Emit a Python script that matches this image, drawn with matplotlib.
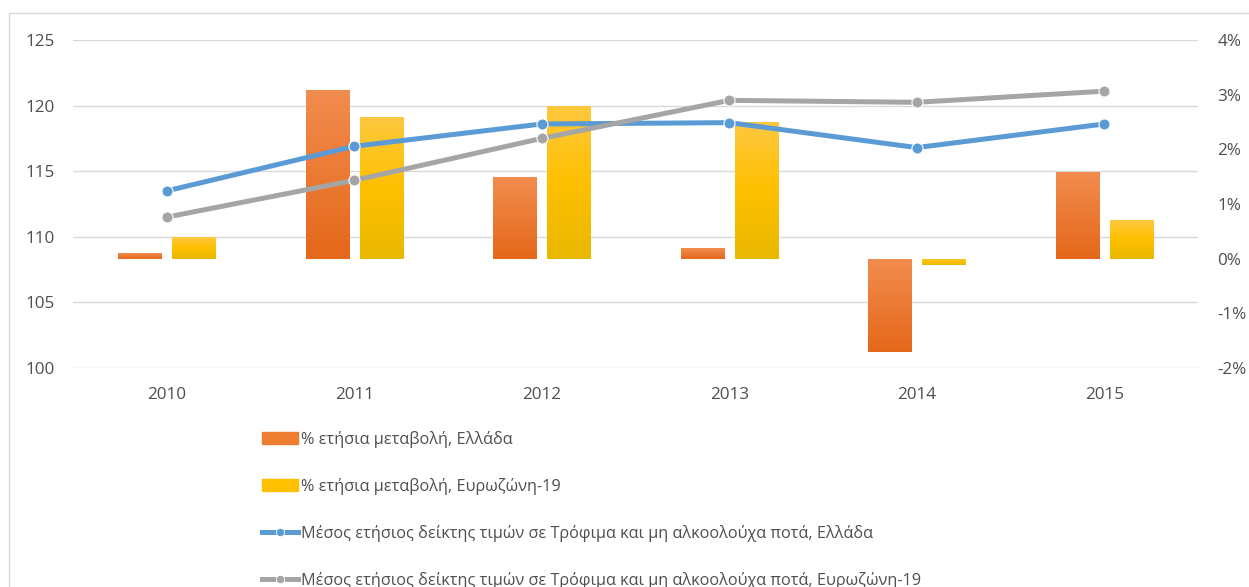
import numpy as np
import matplotlib.pyplot as plt
from matplotlib.patches import Rectangle
from matplotlib.colors import LinearSegmentedColormap

plt.rcParams['font.family'] = ['Open Sans', 'DejaVu Sans']

years = ['2010', '2011', '2012', '2013', '2014', '2015']
# % ετήσια μεταβολή (δεξιός άξονας)
pct_gr = [0.1, 3.09, 1.5, 0.2, -1.7, 1.59]
pct_ez = [0.4, 2.59, 2.79, 2.5, -0.12, 0.7]
# μέσος ετήσιος δείκτης (αριστερός άξονας)
idx_gr = [113.5, 116.9, 118.6, 118.7, 116.8, 118.6]
idx_ez = [111.5, 114.3, 117.5, 120.4, 120.25, 121.1]

labels = ['% ετήσια μεταβολή, Ελλάδα',
          '% ετήσια μεταβολή, Ευρωζώνη-19',
          'Μέσος ετήσιος δείκτης τιμών σε Τρόφιμα και μη αλκοολούχα ποτά, Ελλάδα',
          'Μέσος ετήσιος δείκτης τιμών σε Τρόφιμα και μη αλκοολούχα ποτά, Ευρωζώνη-19']

ORANGE = '#ED7D31'
YELLOW = '#FFC000'
BLUE = '#5B9BD5'
GRAY = '#A5A5A5'
TXT = '#4F4F4F'

fig = plt.figure(figsize=(12.49, 5.87), dpi=100)
ax1 = fig.add_axes([73 / 1249, 1 - 368 / 587, 1125 / 1249, 328 / 587])
ax2 = ax1.twinx()
ax3 = ax1.twinx()

x = np.arange(len(years))
w = 0.23
off = 0.145

# αριστερός άξονας + πλέγμα
ax1.set_ylim(100, 125)
ax1.set_yticks(range(100, 126, 5))
ax1.set_xlim(-0.5, len(years) - 0.5)
ax1.grid(axis='y', color='#D9D9D9', linewidth=1)
ax1.set_axisbelow(True)
ax1.set_xticks(x)
ax1.set_xticklabels(years)

# ράβδοι με διαβάθμιση
ax2.set_ylim(-2, 4)
ax2.set_yticks(range(-2, 5))
ax2.set_yticklabels([f'{v}%' for v in range(-2, 5)])
cm_or = LinearSegmentedColormap.from_list('or', ['#E5681A', '#F28C4E'])
cm_ye = LinearSegmentedColormap.from_list('ye', ['#E9B800', '#FFC000', '#FDC83E'])
grad = np.linspace(0, 1, 64).reshape(-1, 1)
for vals, dx, cmap, col in [(pct_gr, -off, cm_or, ORANGE), (pct_ez, off, cm_ye, YELLOW)]:
    bars = ax2.bar(x + dx, vals, w, color=col, linewidth=0)
    for b in bars:
        x0, y0 = b.get_x(), b.get_y()
        bw, bh = b.get_width(), b.get_height()
        lo, hi = min(y0, y0 + bh), max(y0, y0 + bh)
        im = ax2.imshow(grad, extent=[x0, x0 + bw, lo, hi], origin='lower',
                        cmap=cmap, aspect='auto', zorder=2)
        im.set_clip_path(b)
ax2.set_xlim(-0.5, len(years) - 0.5)
ax2.set_ylim(-2, 4)

# γραμμές δεικτών
ax3.set_ylim(100, 125)
ax3.plot(x, idx_gr, color=BLUE, linewidth=3.6, marker='o', markersize=8,
         markeredgecolor='white', markeredgewidth=0.8, solid_capstyle='round')
ax3.plot(x, idx_ez, color=GRAY, linewidth=3.6, marker='o', markersize=8,
         markeredgecolor='white', markeredgewidth=0.8, solid_capstyle='round')
ax3.set_yticks([])
ax3.set_xlim(-0.5, len(years) - 0.5)

for ax in (ax1, ax2, ax3):
    for s in ax.spines.values():
        s.set_visible(False)
ax1.tick_params(axis='y', length=0, pad=13, labelsize=12.3, labelcolor=TXT)
ax1.tick_params(axis='x', length=0, pad=14, labelsize=12.3, labelcolor=TXT)
ax2.tick_params(axis='y', length=0, pad=14, labelsize=12.3, labelcolor=TXT)
ax3.tick_params(length=0)

# υπόμνημα
h1 = Rectangle((0, 0), 1, 1, color=ORANGE)
h2 = Rectangle((0, 0), 1, 1, color=YELLOW)
h3, = ax3.plot([], [], color=BLUE, linewidth=3.6, marker='o', markersize=6,
               markeredgecolor='white', markeredgewidth=0.6)
h4, = ax3.plot([], [], color=GRAY, linewidth=3.6, marker='o', markersize=6,
               markeredgecolor='white', markeredgewidth=0.6)
leg = fig.legend([h1, h2, h3, h4], labels, loc='upper left',
                 bbox_to_anchor=(256 / 1249, 1 - 424 / 587), frameon=False,
                 fontsize=11.7, labelspacing=1.86, handlelength=2.2,
                 handleheight=0.7, handletextpad=0.15, borderaxespad=0)
for t in leg.get_texts():
    t.set_color(TXT)

# πλαίσιο γραφήματος
fig.patches.append(Rectangle((9 / 1249, -0.1), 1.2, 1 - 13 / 587 + 0.1,
                             transform=fig.transFigure, fill=False,
                             edgecolor='#D9D9D9', linewidth=1))

fig.savefig('out.png', dpi=100)
